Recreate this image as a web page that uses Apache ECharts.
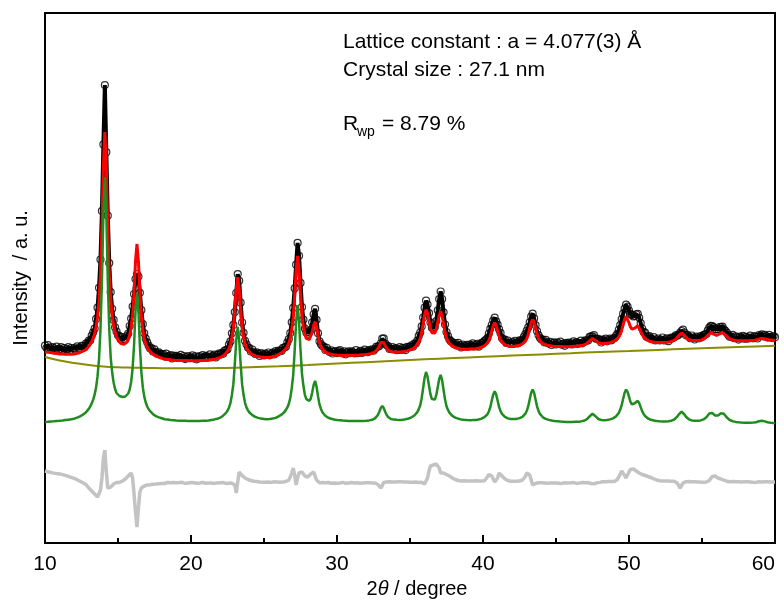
<!DOCTYPE html>
<html><head><meta charset="utf-8">
<script src="https://cdn.jsdelivr.net/npm/echarts@6/dist/echarts.min.js"></script>
<style>html,body{margin:0;padding:0;background:#fff}#c{width:784px;height:601px}</style>
</head><body><div id="c"></div>
<script>
// 2-theta grid: 10.0 .. 60.0 degrees, step 0.1
const thetaStart = 10, thetaStep = 0.1;

// Observed intensity (open circles), a.u.
const observed = [
197.3,195.0,197.8,195.5,193.4,196.0,194.8,193.5,196.4,193.1,
194.1,195.9,193.0,194.9,191.8,193.8,195.8,192.7,194.8,192.8,
194.9,193.2,196.6,195.0,194.5,197.1,196.8,195.6,199.5,199.8,
202.5,202.7,207.4,210.7,214.3,224.1,235.3,255.2,283.5,332.1,
398.6,457.9,390.8,327.3,279.9,250.8,234.2,223.1,215.7,211.5,
207.7,206.9,203.4,205.9,203.8,203.5,206.8,209.5,217.0,224.4,
236.4,249.0,263.9,269.0,266.5,250.2,232.8,218.9,209.7,204.3,
200.7,197.3,194.4,194.9,191.6,193.7,190.9,189.3,190.6,189.2,
188.3,188.9,186.4,189.3,186.2,187.0,187.8,184.6,187.5,186.3,
187.2,185.1,186.1,188.1,185.0,187.0,183.9,185.9,186.9,184.8,
185.7,187.7,184.7,186.7,183.7,185.8,186.9,184.9,188.0,186.0,
187.1,185.2,186.3,188.6,185.8,187.1,188.3,185.6,188.0,189.4,
188.4,190.2,189.2,192.3,192.8,193.7,198.4,201.6,209.7,218.1,
230.9,250.0,268.9,262.2,240.3,220.5,210.2,202.2,198.7,195.6,
194.8,191.5,193.5,190.7,189.1,190.7,189.3,187.0,189.8,188.7,
187.6,189.4,188.4,190.5,187.7,189.0,190.3,188.6,191.9,190.6,
192.5,192.3,192.0,195.2,195.4,196.3,200.6,203.9,210.0,220.7,
235.1,254.7,278.3,300.1,287.2,260.1,236.0,223.3,214.5,210.6,
208.9,210.4,213.2,220.7,228.6,234.2,223.2,209.8,201.7,198.8,
197.0,196.4,193.1,195.1,192.4,191.1,192.7,189.5,191.1,192.0,
189.9,191.9,192.8,190.7,189.6,191.6,188.7,190.7,191.7,189.8,
191.6,190.7,189.7,192.8,189.8,190.9,192.1,190.1,191.3,193.4,
191.5,190.8,192.9,192.3,193.7,192.3,194.0,196.3,196.2,197.1,
199.5,204.4,204.6,199.4,197.7,196.9,194.0,194.4,196.0,194.0,
194.8,192.8,193.9,195.9,193.0,195.2,194.5,192.9,196.1,195.6,
196.1,197.7,196.3,199.4,199.6,202.4,207.1,210.5,216.6,225.4,
235.3,242.4,238.5,229.9,220.4,215.2,214.4,216.0,221.9,232.7,
243.9,251.5,244.0,230.7,218.5,211.0,206.8,203.5,201.8,200.7,
199.5,200.0,197.5,200.1,197.8,195.6,198.5,197.3,196.3,198.2,
196.3,198.4,197.4,199.6,196.6,197.8,199.1,196.3,198.7,200.2,
200.4,202.2,203.1,204.8,209.3,214.2,218.0,222.4,225.3,221.6,
218.4,213.8,210.1,204.9,203.3,203.3,200.1,202.5,200.2,199.0,
201.1,199.2,202.2,200.5,199.7,202.7,202.4,203.0,206.2,208.8,
212.5,215.6,220.7,226.5,229.4,224.6,217.9,211.9,207.9,205.2,
203.6,203.5,200.7,203.2,200.6,199.4,201.2,198.0,199.8,200.6,
198.5,200.5,199.4,201.4,198.3,199.3,197.2,200.2,199.3,200.3,
199.4,198.6,201.6,199.8,201.0,199.0,200.1,202.4,199.7,201.0,
202.6,202.4,202.5,206.1,206.6,206.6,207.9,204.5,204.1,204.2,
202.8,200.5,203.3,202.4,204.4,201.7,203.0,204.3,202.7,204.3,
204.9,206.8,209.2,213.1,217.9,223.8,229.3,234.5,238.3,236.4,
232.3,229.1,227.9,226.5,226.9,228.6,229.2,225.2,219.9,214.5,
211.1,210.4,206.2,206.4,206.8,204.4,204.0,205.8,202.6,203.5,
204.5,202.5,203.4,205.5,202.5,203.6,204.7,201.8,204.1,205.4,
205.0,205.8,207.7,207.3,208.3,210.1,212.0,213.3,210.5,207.7,
208.2,206.4,204.8,207.5,205.4,203.5,206.5,205.6,204.7,207.0,
206.1,207.8,208.7,208.9,212.7,215.3,217.1,216.8,215.9,213.8,
213.5,213.9,216.0,216.0,216.3,213.6,212.1,210.3,208.0,206.2,
206.6,208.2,204.8,206.7,205.5,203.4,206.3,205.3,207.2,204.3,
206.2,204.3,205.3,207.4,205.5,204.7,206.8,206.2,204.5,208.0,
207.4,208.7,206.5,208.2,206.7,205.4,208.1,206.1,204.9,206.9,
205.8];

// Calculated profile (red)
const calculated = [
191.3,191.0,190.8,190.5,190.4,190.0,189.8,189.5,189.4,189.1,
189.1,188.9,189.0,188.9,188.8,188.8,188.8,188.7,188.8,188.8,
188.9,189.2,189.6,190.0,190.5,191.1,191.8,192.6,193.5,194.8,
196.5,198.7,201.4,204.7,209.3,216.1,226.3,242.2,269.5,315.1,
376.6,410.9,376.8,315.3,269.9,242.8,227.2,217.1,210.7,206.5,
202.7,200.9,199.4,198.9,198.8,199.5,200.8,203.5,208.0,215.4,
228.4,251.0,281.9,299.0,281.5,250.2,226.8,212.9,204.7,199.3,
195.7,193.3,191.4,189.9,188.6,187.7,186.9,186.3,185.6,185.2,
184.8,184.4,183.9,183.8,183.7,183.5,183.3,183.1,183.0,182.8,
182.7,182.6,182.6,182.6,182.5,182.5,182.4,182.4,182.4,182.3,
182.2,182.2,182.2,182.2,182.2,182.3,182.4,182.4,182.5,182.5,
182.6,182.7,182.8,183.1,183.3,183.6,183.8,184.1,184.5,184.9,
185.4,186.2,187.2,188.3,189.8,191.7,194.4,198.6,205.7,215.1,
232.9,254.0,265.9,254.2,233.3,215.5,206.2,199.2,195.2,192.6,
190.8,189.5,188.5,187.7,187.1,186.7,186.3,186.0,185.8,185.7,
185.6,185.4,185.4,185.5,185.7,186.0,186.3,186.6,186.9,187.6,
188.5,189.3,190.0,191.2,192.4,194.3,196.6,199.9,205.0,213.7,
225.1,246.7,272.3,287.1,273.2,248.1,227.0,216.3,208.5,204.6,
202.9,203.4,205.2,210.7,217.6,221.2,216.2,207.8,200.7,196.8,
194.0,192.4,191.1,190.1,189.4,189.1,188.7,188.5,188.1,188.0,
187.9,187.9,187.8,187.7,187.6,187.6,187.7,187.7,187.7,187.8,
187.6,187.7,187.7,187.8,187.8,187.9,188.1,188.1,188.3,188.4,
188.5,188.8,188.9,189.3,189.7,190.3,191.0,192.3,194.2,197.1,
200.5,202.4,200.6,197.4,194.7,192.9,192.0,191.4,191.0,191.0,
190.8,190.8,190.9,190.9,191.0,191.2,191.5,191.9,192.1,192.6,
193.1,193.7,194.3,195.4,196.6,198.4,201.1,204.5,210.6,219.4,
228.3,233.4,229.5,221.9,214.4,210.2,209.4,210.0,213.9,220.7,
227.9,231.5,227.0,218.7,210.5,205.0,201.8,199.5,197.8,196.7,
196.0,195.5,195.0,194.6,194.3,194.1,194.0,193.8,193.8,193.7,
193.8,193.9,193.9,194.1,194.1,194.3,194.6,194.8,195.2,195.7,
196.4,197.2,198.1,199.8,202.3,206.2,212.0,217.4,220.3,217.6,
212.4,206.8,203.1,200.9,199.3,198.3,197.6,197.0,196.7,196.5,
196.6,196.7,196.7,197.0,197.2,197.7,198.4,199.0,200.2,201.8,
204.5,208.6,214.7,220.5,223.4,220.6,214.9,208.9,204.9,202.2,
200.6,199.5,198.7,198.2,197.6,197.4,197.2,197.0,196.8,196.6,
196.5,196.5,196.4,196.4,196.3,196.3,196.2,196.2,196.3,196.3,
196.4,196.6,196.6,196.8,197.0,197.0,197.1,197.4,197.7,198.0,
198.6,199.4,200.5,202.1,203.6,204.6,203.9,202.5,201.1,200.2,
199.8,199.5,199.3,199.4,199.4,199.7,200.0,200.3,200.7,201.3,
201.9,202.8,204.2,206.1,208.9,212.8,218.3,223.5,226.3,224.4,
220.3,216.1,213.9,213.5,214.9,216.6,217.2,215.2,211.9,208.5,
206.1,204.4,203.2,202.4,201.8,201.4,201.0,200.8,200.6,200.5,
200.5,200.5,200.4,200.5,200.5,200.6,200.7,200.8,201.1,201.4,
202.0,202.8,203.7,205.3,207.3,209.1,210.0,209.3,207.5,205.7,
204.2,203.4,202.8,202.5,202.4,202.5,202.5,202.6,202.7,203.0,
203.1,203.8,204.7,205.9,207.7,209.3,210.1,209.8,208.9,207.8,
207.5,207.9,209.0,210.0,210.3,209.6,208.1,206.3,205.0,204.2,
203.6,203.2,202.8,202.7,202.5,202.4,202.3,202.3,202.2,202.3,
202.2,202.3,202.3,202.4,202.5,202.7,202.8,203.2,203.5,204.0,
204.4,204.7,204.5,204.2,203.7,203.4,203.1,203.1,202.9,202.9,
202.8];

// Phase profile (green), offset below the pattern
const phaseProfile = [
121.0,121.1,121.2,121.4,121.5,121.6,121.7,121.8,122.0,122.1,
122.2,122.4,122.5,122.7,122.9,123.1,123.3,123.5,123.7,124.0,
124.3,124.8,125.4,126.0,126.7,127.5,128.4,129.4,130.6,132.1,
134.1,136.6,139.6,143.3,148.3,155.7,166.8,184.0,213.5,262.6,
328.9,365.8,329.3,263.2,214.4,185.4,170.5,160.5,154.0,150.0,
148.0,147.0,146.3,146.0,146.0,146.5,147.5,149.5,153.5,161.0,
174.5,197.7,232.1,251.1,231.7,196.9,171.0,155.6,146.4,140.5,
136.5,133.9,131.8,130.2,128.8,127.8,126.9,126.2,125.6,125.1,
124.7,124.2,123.7,123.6,123.4,123.2,123.0,122.8,122.7,122.5,
122.4,122.4,122.3,122.3,122.3,122.2,122.2,122.1,122.1,122.1,
122.0,122.0,122.0,122.0,122.0,122.0,122.1,122.1,122.2,122.2,
122.3,122.5,122.6,122.8,123.1,123.3,123.6,123.9,124.2,124.7,
125.3,126.2,127.3,128.5,130.1,132.2,135.3,139.9,148.0,158.6,
178.8,202.8,216.2,202.9,179.0,158.8,148.2,140.2,135.6,132.6,
130.5,129.0,127.8,126.9,126.1,125.6,125.1,124.7,124.4,124.3,
124.1,123.9,123.8,123.9,124.0,124.3,124.5,124.8,125.1,125.8,
126.7,127.5,128.3,129.6,131.0,133.0,135.5,139.3,144.9,154.8,
167.7,192.1,221.2,237.9,222.1,193.5,169.4,157.2,148.2,143.8,
141.8,142.2,144.3,150.4,158.1,162.1,156.4,146.7,138.6,134.1,
130.8,128.9,127.3,126.2,125.3,124.8,124.3,123.9,123.5,123.3,
123.0,122.9,122.7,122.5,122.4,122.2,122.2,122.1,122.0,122.0,
121.9,121.9,121.9,121.9,121.9,121.9,122.0,122.0,122.1,122.2,
122.3,122.4,122.6,122.9,123.2,123.8,124.6,125.9,128.0,131.3,
135.0,137.1,135.0,131.3,128.1,126.0,124.8,124.0,123.5,123.4,
123.3,123.2,123.1,123.1,123.1,123.3,123.5,123.8,124.1,124.5,
125.1,125.7,126.4,127.5,128.9,130.8,133.9,137.8,144.7,155.0,
165.2,171.0,166.4,157.5,148.8,143.9,142.8,143.4,147.8,155.8,
164.0,168.1,162.8,153.0,143.4,136.8,133.1,130.3,128.4,127.1,
126.1,125.4,124.8,124.3,123.9,123.6,123.4,123.2,123.0,122.9,
122.8,122.8,122.8,122.9,122.9,123.1,123.3,123.5,123.8,124.4,
125.0,125.8,126.9,128.7,131.5,135.8,142.4,148.5,151.6,148.6,
142.5,136.1,131.9,129.2,127.4,126.2,125.3,124.6,124.2,124.0,
124.0,124.0,124.0,124.1,124.4,124.9,125.5,126.2,127.4,129.3,
132.2,136.8,143.7,150.2,153.5,150.2,143.6,136.7,132.1,129.1,
127.1,125.7,124.8,124.1,123.5,123.1,122.8,122.5,122.2,122.0,
121.8,121.7,121.5,121.4,121.4,121.2,121.0,121.0,121.0,121.0,
121.0,121.1,121.1,121.2,121.3,121.3,121.4,121.6,121.9,122.2,
122.8,123.6,124.8,126.5,128.2,129.3,128.4,126.8,125.1,124.0,
123.4,123.0,122.8,122.7,122.8,123.0,123.3,123.6,124.0,124.6,
125.4,126.4,128.0,130.1,133.4,137.8,144.2,150.2,153.4,151.1,
146.3,141.2,138.7,138.1,139.7,141.6,142.2,139.9,135.9,131.9,
129.1,127.0,125.5,124.5,123.8,123.2,122.8,122.5,122.2,122.0,
121.8,121.7,121.6,121.6,121.5,121.5,121.6,121.7,121.9,122.3,
122.7,123.5,124.5,126.3,128.4,130.4,131.3,130.5,128.5,126.3,
124.7,123.7,123.0,122.6,122.4,122.2,122.2,122.2,122.4,122.6,
122.9,123.6,124.5,125.8,127.8,129.5,130.4,129.9,128.8,127.6,
127.2,127.6,128.7,129.8,130.1,129.2,127.5,125.5,124.0,123.0,
122.3,121.8,121.4,121.1,120.9,120.7,120.5,120.4,120.4,120.3,
120.2,120.2,120.2,120.3,120.3,120.4,120.6,120.8,121.2,121.7,
122.1,122.3,122.1,121.6,121.1,120.7,120.4,120.2,120.0,119.9,
119.8];

// Difference curve (grey), offset
const difference = [
72,71.3,71.2,70.3,70.5,69.8,69.9,69.3,69.4,68.8,
69.1,68.4,68.4,67.6,67.6,66.8,66.7,65.8,65.6,64.9,
64.6,63.6,63.3,62.2,61.8,60.8,60.3,59.2,58.6,56.9,
55,53.5,52,50.5,49,47.5,46,45,53,65,
85,93,71,55,53,56,58,59,59.5,60.5,
60,60.5,61,62,63,64,65.5,67,68.5,70,
65,49,31,16,35,51,55,56,57,57.5,
58,58.4,58.3,58.9,58.8,59.2,59.0,59.6,59.3,59.7,
59.6,60.3,59.5,60.1,60.6,59.8,60.2,59.4,60.5,60.0,
60.3,59.6,60.4,59.9,60.7,60.1,59.5,60.4,60.0,59.7,
60.5,59.9,60.2,60.8,59.7,60.3,60.0,59.6,60.6,60.1,
59.8,60.4,60.0,60.7,59.9,60.2,59.6,60.5,60.1,59.8,
60.3,59.7,60.4,60.1,59.6,60.2,59.8,60.3,59.9,59.5,
58,50,61,71,69,67.5,66,65,64,63.5,
63.2,62.5,62.6,61.8,62.2,61.5,61.7,61.1,61.2,60.8,
61.2,60.7,61.1,60.9,61.3,60.6,61.0,61.2,60.8,61.1,
61.0,60.7,61.2,60.9,61.3,61.5,62,63,66,70,
75,68,58,65,70,72,71,69,67,66,
66,67,69,70,71,67,63,61,60.3,60.0,
60.4,59.8,60.2,59.6,60.5,60.1,59.7,60.3,59.9,60.4,
59.8,60.3,60.0,59.5,60.6,60.1,59.7,60.4,59.9,60.2,
60.5,59.8,60.1,59.6,60.3,60.0,59.7,60.4,60.1,59.8,
60.2,59.7,60.3,59.9,60.1,59.6,60.0,59.4,58.5,57.0,
55,57.5,60.5,61.2,61.0,60.7,61.2,60.8,61.1,60.6,
61.0,60.7,61.2,60.8,61.3,60.9,61.1,60.6,61.0,61.2,
60.8,61.1,60.7,61.2,60.9,61.0,60.6,61.1,60.8,60.0,
59,58,65,72,77,78,78,78.5,79,77,
75,70,68,70,69.5,68.5,68,67,66,65,
64.5,63.5,63,62.5,62.2,62,61.8,62.2,61.7,62.0,
61.8,62.1,61.6,62.0,61.9,62.3,61.7,62.0,61.8,62.1,
61.9,62.2,63.5,66,68.5,68,67,64,61,60,
65,70,68.5,67,65.5,64,63,62.5,62,61.8,
62.1,61.7,62.0,61.8,62.2,61.9,62.3,63,64,66.5,
70,69.5,68,63,58,59,59.5,60,60.2,59.8,
60.3,59.8,60.1,60.4,59.7,60.2,59.9,60.3,60.0,59.6,
60.1,60.4,59.8,60.2,59.6,60.0,60.3,59.7,60.1,59.9,
60.2,59.8,60.4,60.0,59.6,60.3,59.9,60.1,60.5,59.8,
60.2,59.9,60.4,60.0,59.5,61.0,59.2,60.3,60.1,59.8,
60.6,60.8,61.2,60.9,61.3,61.0,61.4,61.1,61.5,61.2,
61.5,62.5,63.5,66,69,72,70,67.5,65,68,
71,73.5,75,74,73,72,71,70,69,68.5,
68,67.5,67,66.5,66,65.5,65,64.2,63.5,63,
62.5,62.2,61.8,62.1,61.7,62.0,61.6,61.9,62.1,61.8,
62.0,61.7,61.3,60,58,55,57.5,60,61,61.3,
61.0,61.4,60.8,61.2,60.9,61.3,60.7,61.1,61.4,60.9,
61.2,60.8,61.3,61.0,61.6,62.5,64.5,66.5,68,67,
66,65,64.5,64,63.5,62.8,62.2,61.8,61.5,61.2,
61.0,61.4,60.7,61.2,60.9,61.3,60.6,61.1,60.8,61.2,
60.9,61.3,60.7,61.1,61.4,60.8,61.2,60.6,61.0,61.3,
60.8,61.1,60.7,61.3,60.9,61.2,60.6,61.0,61.3,60.9,
61.0];

// Background (olive), sparse points
const bgTheta = [10,11,12,13,14,15,16,17,18,20,22,24,26,28,30,32,34,36,38,40,42,44,46,48,50,52,54,56,58,60];
const bgIntensity = [186,182.5,180,178,176.5,175.7,175.3,175,174.8,174.7,175,175.8,176.8,178,179.5,180.8,182.2,183.7,185,186.2,187.4,188.6,189.8,191,192,193.1,194.2,195.2,196.2,197.2];

// Annotation texts
const lineLattice = 'Lattice constant : a = 4.077(3) Å';
const lineCrystal = 'Crystal size : 27.1 nm';
const rwpValue = '= 8.79 %';

const toPairs = arr => arr.map((v, i) => [Math.round((thetaStart + i * thetaStep) * 10) / 10, v]);
const FONT = '"Liberation Sans", Arial, Helvetica, sans-serif';
const obsPairs = toPairs(observed);

const chart = echarts.init(document.getElementById('c'), null, {renderer: 'canvas'});
chart.setOption({
  animation: false,
  backgroundColor: '#fff',
  grid: {left: 45, right: 9, top: 13, bottom: 58, show: true, borderColor: '#000', borderWidth: 2,
         backgroundColor: 'transparent', containLabel: false, outerBoundsMode: 'none'},
  xAxis: {
    type: 'value', min: 10, max: 60, interval: 10,
    axisLine: {onZero: false, lineStyle: {color: '#000', width: 2}},
    axisTick: {inside: true, length: 8, lineStyle: {color: '#000', width: 2}},
    minorTick: {show: true, splitNumber: 2, length: 5, lineStyle: {color: '#000', width: 2}},
    splitLine: {show: false}, minorSplitLine: {show: false},
    axisLabel: {color: '#000', fontSize: 21, fontFamily: FONT, margin: 11, alignMaxLabel: 'right', hideOverlap: false},
    name: '{n|2}{t|θ}{n| / degree}', nameLocation: 'middle', nameGap: 32,
    nameTextStyle: {padding: [0, 0, 0, 14], rich: {
      n: {fontSize: 20, fontFamily: FONT, color: '#000'},
      t: {fontSize: 20, fontFamily: FONT, color: '#000', fontStyle: 'italic'}
    }}
  },
  yAxis: {
    type: 'value', min: 0, max: 530,
    axisLine: {show: true, onZero: false, lineStyle: {color: '#000', width: 2}},
    axisTick: {show: false}, axisLabel: {show: false}, splitLine: {show: false},
    name: 'Intensity  / a. u.', nameLocation: 'middle', nameGap: 14,
    nameTextStyle: {color: '#000', fontSize: 20, fontFamily: FONT}
  },
  series: [
    {name: 'obs line', type: 'line', data: obsPairs, z: 2, silent: true, symbol: 'none',
     lineStyle: {color: '#000', width: 4}},
    {name: 'obs', type: 'scatter', data: obsPairs, z: 2, silent: true,
     symbol: 'circle', symbolSize: 7,
     itemStyle: {color: 'rgba(255,255,255,0)', borderColor: '#000', borderWidth: 1.2}},
    {name: 'calc', type: 'line', data: toPairs(calculated), z: 3, silent: true, symbol: 'none',
     lineStyle: {color: '#ff0000', width: 3}},
    {name: 'bg', type: 'line', data: bgTheta.map((t, i) => [t, bgIntensity[i]]), z: 4, silent: true,
     symbol: 'none', smooth: 0.4, lineStyle: {color: '#8c8c00', width: 2}},
    {name: 'phase', type: 'line', data: toPairs(phaseProfile), z: 5, silent: true, symbol: 'none',
     lineStyle: {color: '#1e8c1e', width: 2.5}},
    {name: 'diff', type: 'line', data: toPairs(difference), z: 6, silent: true, symbol: 'none',
     lineStyle: {color: '#c3c3c3', width: 3.5}}
  ],
  graphic: [
    {type: 'text', left: 343, top: 32, silent: true, style: {text: lineLattice, fontSize: 21, fontFamily: FONT, fill: '#000'}},
    {type: 'text', left: 343, top: 60, silent: true, style: {text: lineCrystal, fontSize: 21, fontFamily: FONT, fill: '#000'}},
    {type: 'text', left: 343, top: 114, silent: true, style: {text: 'R', fontSize: 21, fontFamily: FONT, fill: '#000'}},
    {type: 'text', left: 357, top: 125, silent: true, style: {text: 'wp', fontSize: 14, fontFamily: FONT, fill: '#000'}},
    {type: 'text', left: 382, top: 114, silent: true, style: {text: rwpValue, fontSize: 21, fontFamily: FONT, fill: '#000'}}
  ]
});
</script></body></html>
